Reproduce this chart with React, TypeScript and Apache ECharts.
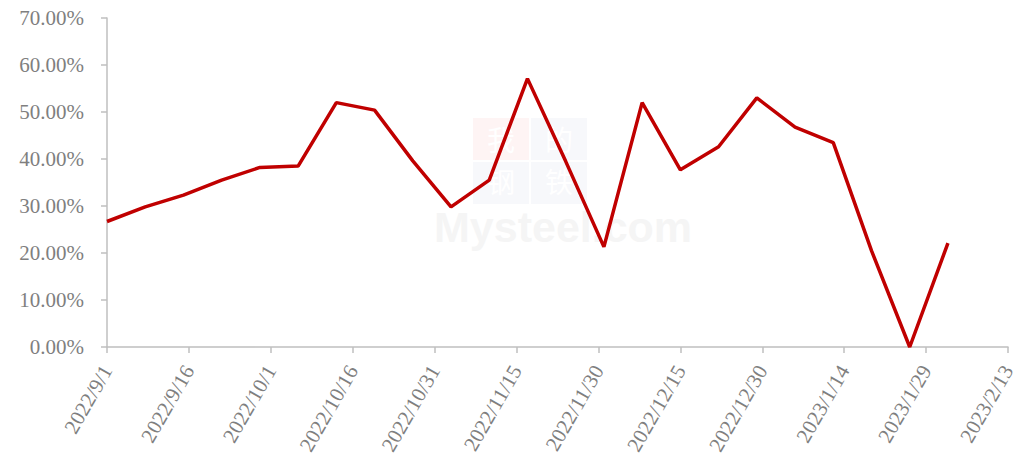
import React, { useEffect, useRef } from "react";
import * as echarts from "echarts";

const startDate = "2022/9/1";
const dates = [
  "2022/9/1", "2022/9/8", "2022/9/15", "2022/9/22", "2022/9/29", "2022/10/6",
  "2022/10/13", "2022/10/20", "2022/10/27", "2022/11/3", "2022/11/10", "2022/11/17",
  "2022/11/24", "2022/12/1", "2022/12/8", "2022/12/15", "2022/12/22", "2022/12/29",
  "2023/1/5", "2023/1/12", "2023/1/19", "2023/1/26", "2023/2/2",
];
const values = [
  26.7, 29.8, 32.3, 35.5, 38.2, 38.5,
  52.0, 50.4, 39.6, 29.8, 35.5, 57.1,
  39.5, 21.3, 52.0, 37.7, 42.6, 53.0,
  46.8, 43.5, 20.5, 0.0, 22.1,
];
const yTicks = [0, 10, 20, 30, 40, 50, 60, 70];
const xSpanDays = 165;
const xStepDays = 15;

const DAY = 86400000;
function parseDate(s: string): number {
  const [y, m, d] = s.split("/").map(Number);
  return Date.UTC(y, m - 1, d);
}
const t0 = parseDate(startDate);
function dayLabel(v: number): string {
  const d = new Date(t0 + v * DAY);
  return `${d.getUTCFullYear()}/${d.getUTCMonth() + 1}/${d.getUTCDate()}`;
}

export default function App() {
  const ref = useRef<HTMLDivElement>(null);
  useEffect(() => {
    document.body.style.margin = "0";
    const chart = echarts.init(ref.current!, null, { renderer: "svg" });
    const data = dates.map((d, i) => [Math.round((parseDate(d) - t0) / DAY), values[i]]);
    const font = "'Liberation Serif', 'Times New Roman', serif";
    const axisGrey = "#bfbfbf";
    const textGrey = "#7f7f7f";
    const cjk = "'Noto Sans CJK SC', sans-serif";
    chart.setOption({
      animation: false,
      backgroundColor: "#ffffff",
      grid: { left: 107, right: 12, top: 18, bottom: 124 },
      xAxis: {
        type: "value",
        min: 0,
        max: xSpanDays,
        interval: xStepDays,
        axisLine: { show: true, lineStyle: { color: axisGrey, width: 1.5 } },
        axisTick: { show: true, length: 6, lineStyle: { color: axisGrey, width: 1.5 } },
        splitLine: { show: false },
        axisLabel: {
          rotate: 60,
          margin: 20,
          fontFamily: font,
          fontSize: 21,
          color: textGrey,
          formatter: (v: number) => dayLabel(v),
          showMinLabel: true,
          showMaxLabel: true,
        },
      },
      yAxis: {
        type: "value",
        min: yTicks[0],
        max: yTicks[yTicks.length - 1],
        interval: 10,
        axisLine: { show: true, lineStyle: { color: axisGrey, width: 1.5 } },
        axisTick: { show: true, length: 6, lineStyle: { color: axisGrey, width: 1.5 } },
        splitLine: { show: false },
        axisLabel: {
          margin: 23,
          fontFamily: font,
          fontSize: 21,
          color: textGrey,
          formatter: (v: number) => `${v.toFixed(2)}%`,
        },
      },
      graphic: [
        { type: "rect", shape: { x: 473, y: 118, width: 56, height: 42 }, style: { fill: "#fef4f4" }, z: 0 },
        { type: "rect", shape: { x: 531, y: 118, width: 56, height: 42 }, style: { fill: "#f7f8fb" }, z: 0 },
        { type: "rect", shape: { x: 473, y: 162, width: 56, height: 42 }, style: { fill: "#f7f8fb" }, z: 0 },
        { type: "rect", shape: { x: 531, y: 162, width: 56, height: 42 }, style: { fill: "#f7f8fb" }, z: 0 },
        { type: "text", x: 501, y: 139, style: { text: "我", fontSize: 28, fill: "#ffffff", fontFamily: cjk, align: "center", verticalAlign: "middle" }, z: 0 },
        { type: "text", x: 559, y: 139, style: { text: "的", fontSize: 28, fill: "#ffffff", fontFamily: cjk, align: "center", verticalAlign: "middle" }, z: 0 },
        { type: "text", x: 501, y: 181, style: { text: "钢", fontSize: 28, fill: "#ffffff", fontFamily: cjk, align: "center", verticalAlign: "middle" }, z: 0 },
        { type: "text", x: 559, y: 181, style: { text: "铁", fontSize: 28, fill: "#ffffff", fontFamily: cjk, align: "center", verticalAlign: "middle" }, z: 0 },
        { type: "text", x: 434, y: 205, style: { text: "Mysteel.com", fontSize: 43, fontWeight: "bold", fill: "#f5f5f5", fontFamily: "'Liberation Sans', Arial, sans-serif" }, z: 0 },
      ],
      series: [
        {
          type: "line",
          data,
          showSymbol: false,
          symbol: "none",
          lineStyle: { color: "#c00000", width: 3.5 },
          z: 5,
        },
      ],
    });
    return () => chart.dispose();
  }, []);
  return <div ref={ref} style={{ width: 1020, height: 471 }} />;
}
